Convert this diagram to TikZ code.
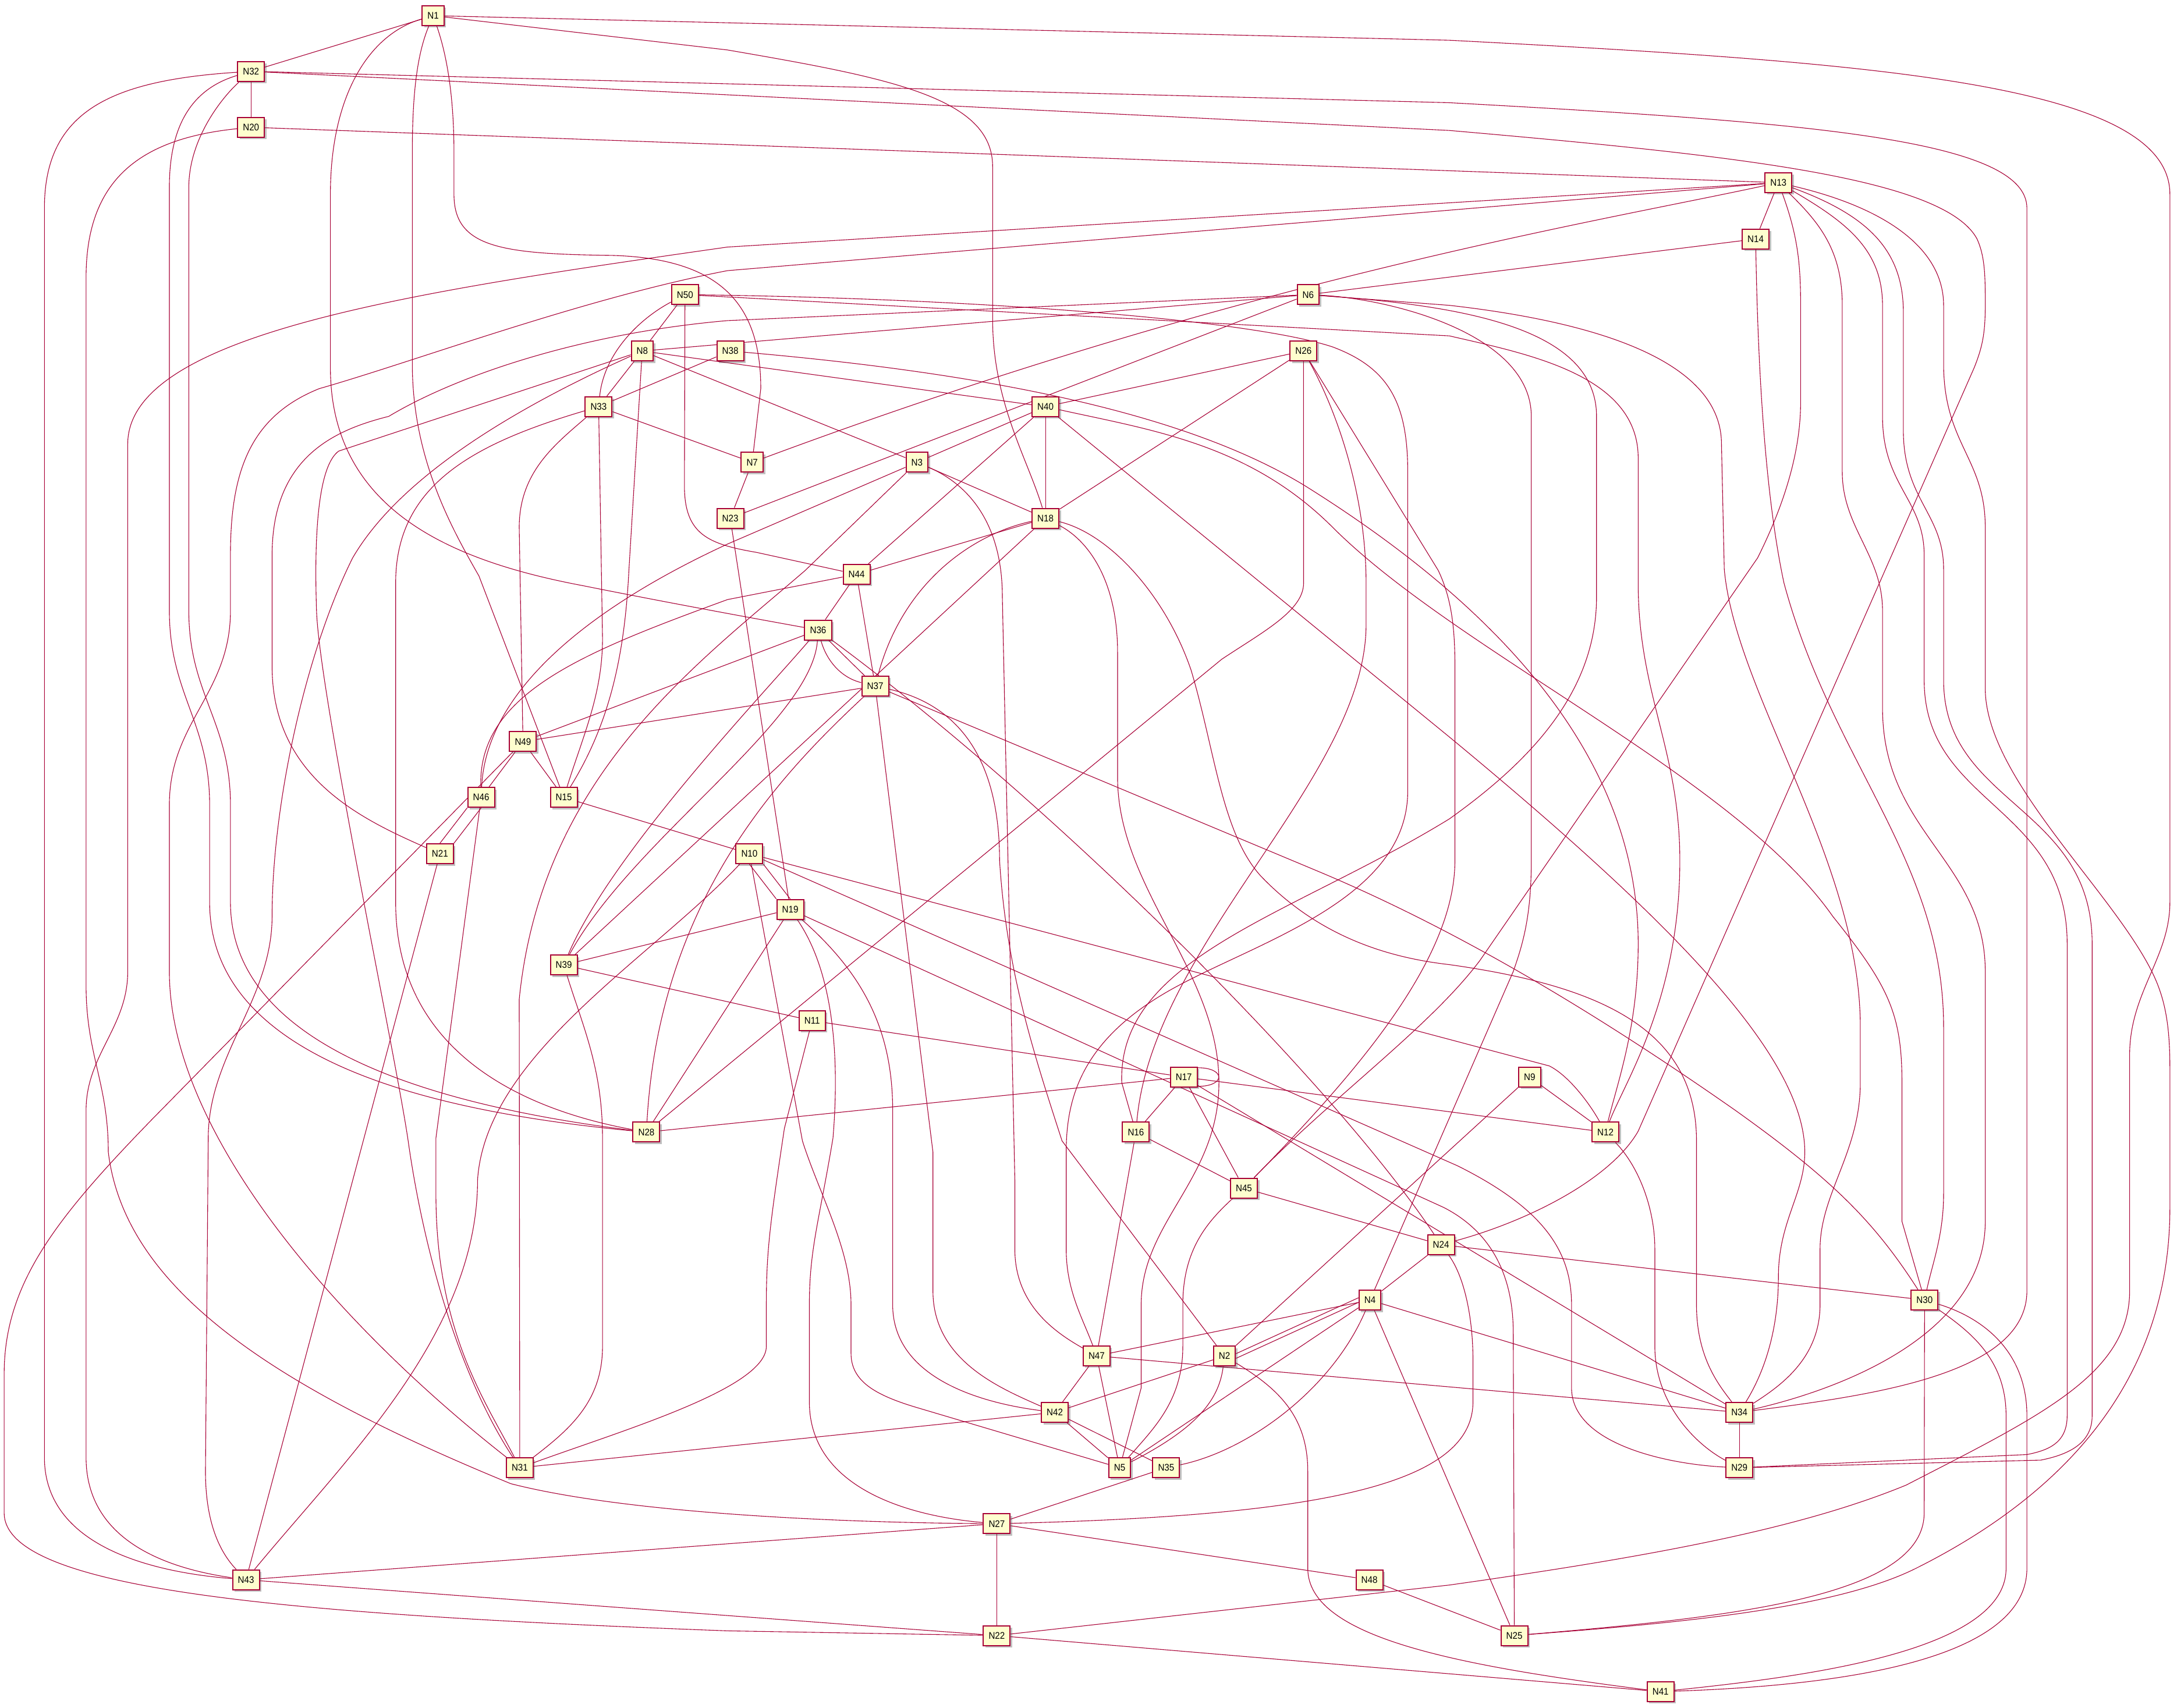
\documentclass[tikz,border=0pt]{standalone}
\usepackage{fontspec}
\setmainfont{Liberation Sans}[FakeStretch=0.92]
\usetikzlibrary{shadows}
\definecolor{nfill}{HTML}{FEFECE}
\definecolor{nline}{HTML}{A80036}
\pgfdeclarelayer{bg}
\pgfsetlayers{bg,main}
\begin{document}
\begin{tikzpicture}[x=2.385pt,y=-2.385pt,
  nd/.style={draw=nline, fill=nfill, line width=2pt, minimum height=34pt, inner xsep=9.1pt, inner ysep=0pt,
    font=\fontsize{16.5}{19}\selectfont,
    drop shadow={shadow xshift=3.5pt,shadow yshift=-3.5pt,opacity=0.35,fill=black!70}},
  e/.style={draw=nline, line width=1.1pt}]
\useasboundingbox (0,0) rectangle (1568.13,1230.19);
\node[nd] (N1) at (312,11.3) {N1};
\node[nd] (N32) at (180.8,51.4) {N32};
\node[nd] (N20) at (180.8,91.7) {N20};
\node[nd] (N13) at (1281,131.6) {N13};
\node[nd] (N14) at (1264.6,172.2) {N14};
\node[nd] (N50) at (493.4,212.3) {N50};
\node[nd] (N6) at (942.3,212.3) {N6};
\node[nd] (N8) at (462.6,252.9) {N8};
\node[nd] (N38) at (526,252.9) {N38};
\node[nd] (N26) at (938.9,252.9) {N26};
\node[nd] (N33) at (431.2,293) {N33};
\node[nd] (N40) at (753.1,293) {N40};
\node[nd] (N7) at (541.8,333.1) {N7};
\node[nd] (N3) at (660.5,333.1) {N3};
\node[nd] (N23) at (526,373.4) {N23};
\node[nd] (N18) at (753.1,373.4) {N18};
\node[nd] (N44) at (617,413.8) {N44};
\node[nd] (N36) at (589.3,453.9) {N36};
\node[nd] (N37) at (630.4,494.3) {N37};
\node[nd] (N49) at (376.7,534.3) {N49};
\node[nd] (N46) at (346.6,574.5) {N46};
\node[nd] (N15) at (406.1,574.5) {N15};
\node[nd] (N21) at (316.9,615.1) {N21};
\node[nd] (N10) at (539.8,615.1) {N10};
\node[nd] (N19) at (569.2,655.2) {N19};
\node[nd] (N39) at (406.1,695.3) {N39};
\node[nd] (N11) at (585,735.4) {N11};
\node[nd] (N17) at (852.7,776) {N17};
\node[nd] (N9) at (1101.8,776) {N9};
\node[nd] (N28) at (465.6,815.7) {N28};
\node[nd] (N16) at (818.2,815.7) {N16};
\node[nd] (N12) at (1156.4,815.7) {N12};
\node[nd] (N45) at (896,856) {N45};
\node[nd] (N24) at (1038,896.8) {N24};
\node[nd] (N4) at (986.8,936.7) {N4};
\node[nd] (N30) at (1386.3,936.6) {N30};
\node[nd] (N47) at (789.9,976.9) {N47};
\node[nd] (N2) at (882,977) {N2};
\node[nd] (N42) at (759.8,1017.6) {N42};
\node[nd] (N34) at (1252.9,1017.6) {N34};
\node[nd] (N31) at (374.4,1057.5) {N31};
\node[nd] (N5) at (806.5,1057.5) {N5};
\node[nd] (N35) at (840,1057.5) {N35};
\node[nd] (N29) at (1252.9,1057.5) {N29};
\node[nd] (N27) at (718,1097.8) {N27};
\node[nd] (N43) at (177.2,1138.2) {N43};
\node[nd] (N48) at (986.4,1138.2) {N48};
\node[nd] (N22) at (718,1178.4) {N22};
\node[nd] (N25) at (1090.8,1178.4) {N25};
\node[nd] (N41) at (1196.1,1218.8) {N41};
\begin{pgfonlayer}{bg}
\fill[white] (0,0) rectangle (1568.13,1230.19);
% straight connectors
\draw[e] (N1) -- (N32);
\draw[e] (N32) -- (N20);
\draw[e] (N20) -- (N13);
\draw[e] (N13) -- (N14);
\draw[e] (N14) -- (N6);
\draw[e] (N50) -- (N8);
\draw[e] (N6) -- (N8);
\draw[e] (N6) -- (N23);
\draw[e] (N8) -- (N33);
\draw[e] (N8) -- (N40);
\draw[e] (N8) -- (N3);
\draw[e] (N38) -- (N33);
\draw[e] (N26) -- (N40);
\draw[e] (N26) -- (N18);
\draw[e] (N33) -- (N7);
\draw[e] (N40) -- (N3);
\draw[e] (N40) -- (N44);
\draw[e] (N40) -- (N18);
\draw[e] (N3) -- (N18);
\draw[e] (N7) -- (N23);
\draw[e] (N23) -- (N19);
\draw[e] (N18) -- (N44);
\draw[e] (N18) -- (N39);
\draw[e] (N44) -- (N36);
\draw[e] (N44) -- (N37);
\draw[e] (N36) -- (N37);
\draw[e] (N36) -- (N49);
\draw[e] (N37) -- (N49);
\draw[e] (N49) -- (N46);
\draw[e] (N49) -- (N15);
\draw[e] (N46.south west) -- (N21.north);
\draw[e] (N46.south) -- (N21.north east);
\draw[e] (N15) -- (N10);
\draw[e] (N21) -- (N43);
\draw[e] (N10.south) -- (N19.north west);
\draw[e] (N10.south east) -- (N19.north);
\draw[e] (N19) -- (N39);
\draw[e] (N19) -- (N28);
\draw[e] (N39) -- (N11);
\draw[e] (N11) -- (N17);
\draw[e] (N17) -- (N28);
\draw[e] (N17) -- (N16);
\draw[e] (N17) -- (N45);
\draw[e] (N17) -- (N12);
\draw[e] (N17) -- (N34);
\draw[e] (N9) -- (N12);
\draw[e] (N9) -- (N2);
\draw[e] (N16) -- (N45);
\draw[e] (N16) -- (N47);
\draw[e] (N45) -- (N24);
\draw[e] (N24) -- (N4);
\draw[e] (N24) -- (N30);
\draw[e] (N4) -- (N47);
\draw[e] ([yshift=4pt]N4.west) -- ([yshift=4pt]N2.east);
\draw[e] ([yshift=-4pt]N4.west) -- ([yshift=-4pt]N2.east);
\draw[e] (N4) -- (N5);
\draw[e] (N4) -- (N34);
\draw[e] (N4) -- (N25);
\draw[e] (N47) -- (N42);
\draw[e] (N47) -- (N5);
\draw[e] (N47) -- (N34);
\draw[e] (N2) -- (N42);
\draw[e] (N42) -- (N31);
\draw[e] (N42) -- (N5);
\draw[e] (N42) -- (N35);
\draw[e] (N35) -- (N27);
\draw[e] (N27) -- (N43);
\draw[e] (N27) -- (N48);
\draw[e] (N27) -- (N22);
\draw[e] (N48) -- (N25);
\draw[e] (N43) -- (N22);
\draw[e] (N22) -- (N41);
\draw[e] (N34) -- (N29);
% self loop
\draw[e] ([yshift=-2pt]N17.north east) .. controls +(48pt,0pt) and +(48pt,0pt) .. ([yshift=2pt]N17.south east);
% routed connectors
\draw[e] (N1) .. controls (265,25) and (238,70) .. (238,140) -- (238,265) .. controls (238,370) and (330,405) .. (420,422) .. controls (480,434) and (540,445) .. (N36);
\draw[e] (N1) .. controls (300,40) and (297,70) .. (297,110) -- (297,262) .. controls (297,330) and (325,380) .. (345,415) -- (N15);
\draw[e] (N1) .. controls (322,40) and (327,70) .. (327,110) -- (327,140) .. controls (327,178) and (360,183) .. (440,184) .. controls (520,186) and (548,220) .. (548,280) -- (N7);
\draw[e] (N1) -- (524,36) .. controls (640,56) and (715,70) .. (715,120) -- (715,230) .. controls (715,290) and (740,330) .. (N18);
\draw[e] (N1) -- (1044,29) .. controls (1350,45) and (1563,60) .. (1563,140) -- (1563,650) .. controls (1563,690) and (1534,715) .. (1534,760) -- (1534,930) .. controls (1534,990) and (1470,1020) .. (1373,1070) .. controls (1300,1100) and (1200,1120) .. (1044,1142) -- (N22);
\draw[e] (N32) .. controls (80,58) and (32,80) .. (32,150) -- (32,1050) .. controls (32,1110) and (100,1132) .. (N43);
\draw[e] (N32) .. controls (135,65) and (122,95) .. (122,135) -- (122,440) .. controls (122,500) and (151,520) .. (151,580) -- (151,650) .. controls (151,760) and (300,800) .. (N28);
\draw[e] (N32) .. controls (160,70) and (136,100) .. (136,135) -- (136,440) .. controls (136,500) and (166,520) .. (166,580) -- (166,650) .. controls (166,750) and (300,795) .. (N28);
\draw[e] (N32) -- (1044,74) .. controls (1300,88) and (1460,100) .. (1460,150) -- (1460,930) .. controls (1460,990) and (1350,1005) .. (N34);
\draw[e] (N32) -- (1044,94) .. controls (1250,112) and (1400,128) .. (1424,172) .. controls (1430,185) and (1430,200) .. (1430,220) .. controls (1430,240) and (1428,250) .. (1422,265) -- (1180,815) .. controls (1160,850) and (1100,880) .. (N24);
\draw[e] (N20) .. controls (100,100) and (62,130) .. (62,200) -- (62,710) .. controls (62,760) and (78,780) .. (78,830) .. controls (90,930) and (200,1000) .. (368,1069) .. controls (450,1090) and (600,1097) .. (N27);
\draw[e] (N13) -- (524,178) .. controls (300,210) and (92,240) .. (92,320) -- (92,700) .. controls (92,740) and (62,760) .. (62,800) -- (62,1050) .. controls (62,1110) and (120,1130) .. (N43);
\draw[e] (N13) -- (524,195) .. controls (420,215) and (300,260) .. (230,280) .. controls (180,300) and (166,340) .. (166,400) -- (166,440) .. controls (166,500) and (122,520) .. (122,580) -- (122,700) .. controls (122,820) and (250,960) .. (N31);
\draw[e] (N13) .. controls (1150,160) and (900,200) .. (N7);
\draw[e] (N13) .. controls (1295,170) and (1297,190) .. (1297,220) -- (1297,290) .. controls (1297,330) and (1282,370) .. (1266,402) -- (1066,692) .. controls (1030,740) and (960,790) .. (N45);
\draw[e] (N13) .. controls (1310,160) and (1327,180) .. (1327,220) -- (1327,340) .. controls (1327,380) and (1356,400) .. (1356,440) -- (1356,510) .. controls (1356,600) and (1430,620) .. (1430,700) -- (1430,880) .. controls (1430,960) and (1330,1000) .. (N34);
\draw[e] (N13) .. controls (1330,160) and (1356,180) .. (1356,220) -- (1356,300) .. controls (1356,350) and (1386,360) .. (1386,400) -- (1386,490) .. controls (1386,580) and (1489,580) .. (1489,680) -- (1489,1020) .. controls (1489,1040) and (1475,1045) .. (1460,1048) -- (N29);
\draw[e] (N13) .. controls (1345,155) and (1371,180) .. (1371,225) -- (1371,310) .. controls (1371,360) and (1400,370) .. (1400,410) -- (1400,490) .. controls (1400,580) and (1507,580) .. (1507,680) -- (1507,1020) .. controls (1507,1040) and (1490,1048) .. (1470,1052) -- (N29);
\draw[e] (N13) .. controls (1360,150) and (1400,180) .. (1400,220) -- (1400,262) .. controls (1400,320) and (1430,330) .. (1430,380) -- (1430,496) .. controls (1430,560) and (1520,640) .. (1550,700) .. controls (1560,720) and (1563,740) .. (1563,770) -- (1563,870) .. controls (1563,1000) and (1480,1080) .. (1380,1130) .. controls (1320,1160) and (1200,1170) .. (N25);
\draw[e] (N14) .. controls (1266,250) and (1270,350) .. (1285,420) .. controls (1320,550) and (1400,620) .. (1400,740) -- (1400,860) .. controls (1400,890) and (1392,910) .. (N30);
\draw[e] (N50) .. controls (460,230) and (435,255) .. (N33);
\draw[e] (N50) -- (493,350) .. controls (493,385) and (510,392) .. (545,398) -- (N44);
\draw[e] (N50) .. controls (700,215) and (900,230) .. (960,250) .. controls (1000,265) and (1014,290) .. (1014,340) -- (1014,570) .. controls (1014,650) and (900,680) .. (840,715) .. controls (780,750) and (768,790) .. (768,830) -- (768,900) .. controls (768,930) and (780,950) .. (N47);
\draw[e] (N50) -- (1044,242) .. controls (1100,255) and (1180,270) .. (1180,330) -- (1180,420) .. controls (1180,500) and (1210,540) .. (1210,620) .. controls (1210,720) and (1170,780) .. (N12);
\draw[e] (N6) -- (524,231) .. controls (420,240) and (330,270) .. (280,300) .. controls (240,310) and (196,330) .. (196,400) -- (196,480) .. controls (196,560) and (260,590) .. (N21);
\draw[e] (N6) .. controls (1050,220) and (1150,235) .. (1150,300) -- (1150,430) .. controls (1150,500) and (1100,550) .. (1044,590) .. controls (930,660) and (805,690) .. (808,780) -- (N16);
\draw[e] (N6) .. controls (1000,215) and (1103,240) .. (1103,300) -- (1103,620) .. controls (1103,660) and (1097,680) .. (1090,700) -- (N4);
\draw[e] (N6) -- (1044,220) .. controls (1150,232) and (1240,260) .. (1240,320) -- (1242,410) .. controls (1250,500) and (1340,620) .. (1340,740) -- (1340,780) .. controls (1340,830) and (1311,860) .. (1311,900) -- (1311,940) .. controls (1311,980) and (1280,1000) .. (N34);
\draw[e] (N8) -- (453,411) .. controls (450,470) and (440,520) .. (N15);
\draw[e] (N8) -- (244,325) .. controls (230,335) and (226,380) .. (228,440) .. controls (230,500) and (285,760) .. (294,822) .. controls (305,900) and (330,990) .. (N31);
\draw[e] (N8) .. controls (380,290) and (290,340) .. (254,402) .. controls (220,470) and (196,580) .. (196,660) .. controls (196,720) and (150,760) .. (150,820) -- (148,1060) .. controls (148,1100) and (160,1120) .. (N43);
\draw[e] (N38) .. controls (700,268) and (850,295) .. (940,350) .. controls (1100,450) and (1180,560) .. (1180,680) .. controls (1180,740) and (1165,780) .. (N12);
\draw[e] (N26) -- (939,420) .. controls (939,440) and (910,455) .. (880,475) -- (N28);
\draw[e] (N26) .. controls (965,300) and (984,360) .. (984,420) -- (984,450) .. controls (984,560) and (830,680) .. (N16);
\draw[e] (N26) -- (1036,411) .. controls (1045,430) and (1048,450) .. (1048,480) -- (1048,620) .. controls (1048,690) and (980,770) .. (N45);
\draw[e] (N33) .. controls (400,320) and (374,340) .. (374,380) -- (N49);
\draw[e] (N33) -- (434,460) .. controls (434,500) and (420,530) .. (N15);
\draw[e] (N33) .. controls (340,320) and (285,350) .. (285,420) -- (285,650) .. controls (285,760) and (380,800) .. (N28);
\draw[e] (N40) .. controls (830,310) and (900,320) .. (960,380) .. controls (1050,470) and (1250,560) .. (1320,660) .. controls (1360,710) and (1370,730) .. (1370,780) -- (1370,880) -- (N30);
\draw[e] (N40) -- (1044,531) .. controls (1200,660) and (1300,760) .. (1300,830) .. controls (1300,860) and (1281,880) .. (1281,920) .. controls (1281,960) and (1270,990) .. (N34);
\draw[e] (N3) -- (580,411) .. controls (500,480) and (390,560) .. (374,720) -- (N31);
\draw[e] (N3) -- (524,392) .. controls (420,440) and (350,500) .. (N46);
\draw[e] (N3) .. controls (700,350) and (722,380) .. (722,430) -- (731,850) -- (731,900) .. controls (731,940) and (760,960) .. (N47);
\draw[e] (N44) -- (524,432) .. controls (420,470) and (344,500) .. (N46);
\draw[e] (N36) .. controls (595,475) and (605,488) .. (N37);
\draw[e] (N36) .. controls (550,500) and (440,615) .. (N39);
\draw[e] (N36) .. controls (585,520) and (455,605) .. (N39);
\draw[e] (N36) .. controls (760,580) and (960,780) .. (N24);
\draw[e] (N37) .. controls (560,560) and (475,650) .. (N28);
\draw[e] (N37) -- (950,628) .. controls (1050,670) and (1150,730) .. (1250,800) .. controls (1320,850) and (1350,880) .. (N30);
\draw[e] (N37) .. controls (700,510) and (720,560) .. (720,620) .. controls (725,700) and (745,760) .. (765,822) -- (N2);
\draw[e] (N37) -- (672,830) -- (672,930) .. controls (672,980) and (720,1000) .. (N42);
\draw[e] (N49) -- (110,806) .. controls (40,878) and (3,925) .. (3,990) -- (3,1090) .. controls (3,1145) and (200,1163) .. (524,1175) -- (N22);
\draw[e] (N46) -- (314,820) -- (314,860) .. controls (314,960) and (350,1010) .. (N31);
\draw[e] (N10) .. controls (470,690) and (350,760) .. (344,850) .. controls (344,960) and (250,1050) .. (N43);
\draw[e] (N10) -- (578,822) .. controls (590,860) and (613,900) .. (613,940) -- (613,975) .. controls (613,995) and (630,1005) .. (660,1014) -- (N5);
\draw[e] (N10) -- (1116,768) .. controls (1130,775) and (1145,795) .. (N12);
\draw[e] (N10) -- (1050,840) .. controls (1110,870) and (1132,900) .. (1132,940) -- (1132,1000) .. controls (1132,1040) and (1200,1055) .. (N29);
\draw[e] (N19) -- (1040,870) .. controls (1075,888) and (1090,920) .. (1090,960) -- (N25);
\draw[e] (N19) .. controls (600,700) and (605,760) .. (600,820) .. controls (590,880) and (583,900) .. (583,940) -- (583,1010) .. controls (583,1070) and (650,1092) .. (N27);
\draw[e] (N19) .. controls (620,700) and (643,740) .. (643,800) -- (643,940) .. controls (643,990) and (700,1010) .. (N42);
\draw[e] (N39) .. controls (420,740) and (434,770) .. (434,820) -- (434,970) .. controls (434,1010) and (410,1030) .. (N31);
\draw[e] (N11) -- (565,813) .. controls (555,880) and (552,900) .. (552,940) -- (552,970) .. controls (552,1000) and (450,1030) .. (N31);
\draw[e] (N12) .. controls (1180,840) and (1192,870) .. (1192,900) -- (1192,970) .. controls (1192,1010) and (1220,1040) .. (N29);
\draw[e] (N45) .. controls (870,880) and (852,900) .. (852,940) -- (852,970) .. controls (852,1010) and (830,1030) .. (N5);
\draw[e] (N24) .. controls (1055,920) and (1061,950) .. (1061,980) -- (1061,1010) .. controls (1061,1070) and (950,1092) .. (N27);
\draw[e] (N4) .. controls (960,1000) and (900,1045) .. (N35);
\draw[e] (N2) .. controls (878,1010) and (860,1030) .. (N5);
\draw[e] (N2) .. controls (920,1000) and (942,1020) .. (942,1060) -- (942,1130) .. controls (942,1180) and (1050,1200) .. (N41);
\draw[e] (N30) -- (1386,1090) .. controls (1386,1150) and (1250,1165) .. (N25);
\draw[e] (N30) .. controls (1420,960) and (1445,980) .. (1445,1020) -- (1445,1130) .. controls (1445,1190) and (1300,1208) .. (N41);
\draw[e] (N30) .. controls (1430,950) and (1460,975) .. (1460,1020) -- (1460,1130) .. controls (1460,1200) and (1310,1215) .. (N41);
\draw[e] (N18) .. controls (700,385) and (650,420) .. (N37);
\draw[e] (N18) .. controls (785,390) and (805,420) .. (805,470) -- (805,560) .. controls (805,640) and (878,700) .. (878,780) .. controls (878,850) and (822,880) .. (822,940) -- (822,1000) -- (N5);
\draw[e] (N18) .. controls (800,385) and (840,430) .. (858,483) .. controls (875,540) and (880,600) .. (908,631) .. controls (950,675) and (1000,690) .. (1044,695) .. controls (1150,710) and (1222,740) .. (1222,822) -- (1222,940) .. controls (1222,980) and (1240,1000) .. (N34);
\end{pgfonlayer}
\end{tikzpicture}
\end{document}
